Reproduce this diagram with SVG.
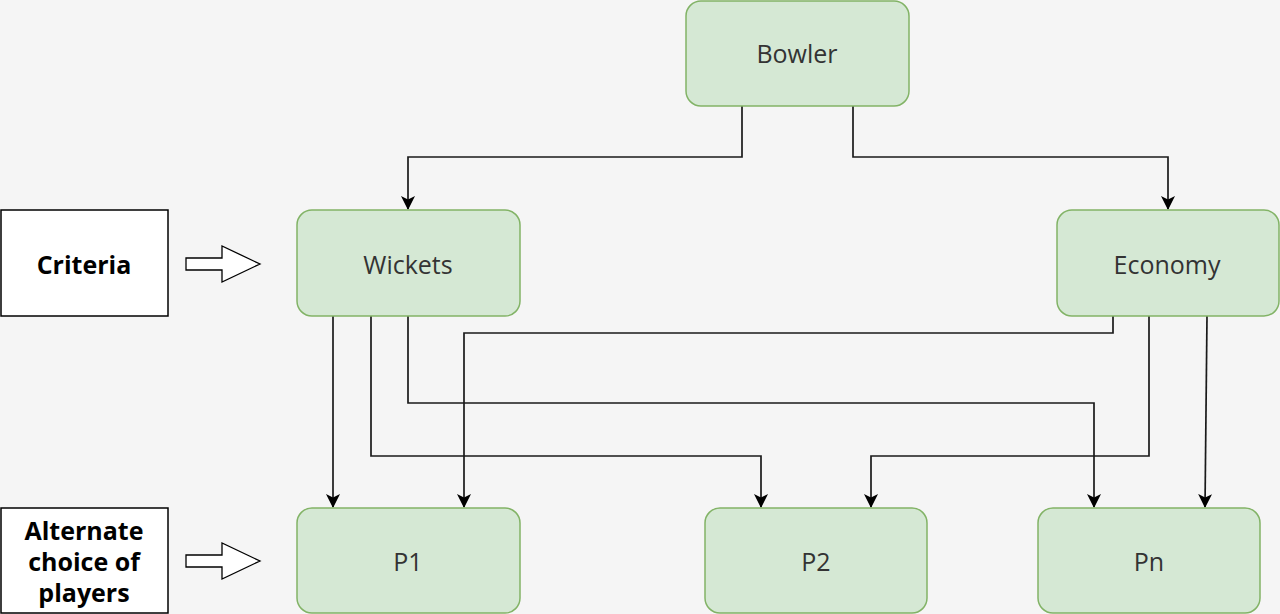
<svg xmlns="http://www.w3.org/2000/svg" width="1280" height="614" viewBox="0 0 1280 614">
<defs>
<marker id="ah" markerWidth="14" markerHeight="14" refX="13" refY="7" orient="auto" markerUnits="userSpaceOnUse" viewBox="0 0 14 14">
<path d="M0,0 L14,7 L0,14 L3.5,7 Z" fill="#000"/>
</marker>
</defs>
<style>
.n{fill:#d5e8d4;stroke:#82b366;stroke-width:1.5}
.t{font-family:"Open Sans","Liberation Sans",sans-serif;font-size:25px;fill:#333;text-anchor:middle;dominant-baseline:central}
.b{fill:#fff;stroke:#000;stroke-width:1.5}
.bt{font-family:"Open Sans","Liberation Sans",sans-serif;font-size:25px;font-weight:bold;fill:#000;text-anchor:middle;dominant-baseline:central}
.c{fill:none;stroke:#1a1a1a;stroke-width:1.7;marker-end:url(#ah)}
.ba{fill:#fff;stroke:#000;stroke-width:1.3}
</style>
<rect width="1280" height="614" fill="#f5f5f5"/>
<g id="connectors">
<path class="c" d="M742,106 V157 H408 V209"/>
<path class="c" d="M853,106 V157 H1168 V209"/>
<path class="c" d="M333,316 V507"/>
<path class="c" d="M371,316 V456 H761 V507"/>
<path class="c" d="M408,316 V403 H1094 V507"/>
<path class="c" d="M1113,316 V333 H464 V507"/>
<path class="c" d="M1149,316 V456 H871 V507"/>
<path class="c" d="M1207,316 L1205,507"/>
</g>
<g id="bowler"><rect class="n" x="686" y="1" width="223" height="105" rx="15"/><text class="t" x="797" y="53">Bowler</text></g>
<g id="wickets"><rect class="n" x="297" y="210" width="223" height="106" rx="15"/><text class="t" x="408" y="264">Wickets</text></g>
<g id="economy"><rect class="n" x="1057" y="210" width="222" height="106" rx="15"/><text class="t" x="1167" y="264">Economy</text></g>
<g id="p1"><rect class="n" x="297" y="508" width="223" height="105" rx="15"/><text class="t" x="408" y="561">P1</text></g>
<g id="p2"><rect class="n" x="705" y="508" width="222" height="105" rx="15"/><text class="t" x="816" y="561">P2</text></g>
<g id="pn"><rect class="n" x="1038" y="508" width="222" height="105" rx="15"/><text class="t" x="1149" y="561">Pn</text></g>
<g id="criteria"><rect class="b" x="1" y="210" width="167" height="106"/><text class="bt" x="84" y="264">Criteria</text></g>
<g id="alternate"><rect class="b" x="1" y="508" width="167" height="105"/><text class="bt" x="84" y="530">Alternate</text><text class="bt" x="84" y="561">choice of</text><text class="bt" x="84" y="592">players</text></g>
<g id="arrow-criteria"><path class="ba" d="M186,258 H222 V246 L260,264 L222,282 V270 H186 Z"/></g>
<g id="arrow-alternate"><path class="ba" d="M186,555 H222 V543 L260,561 L222,579 V567 H186 Z"/></g>
</svg>
